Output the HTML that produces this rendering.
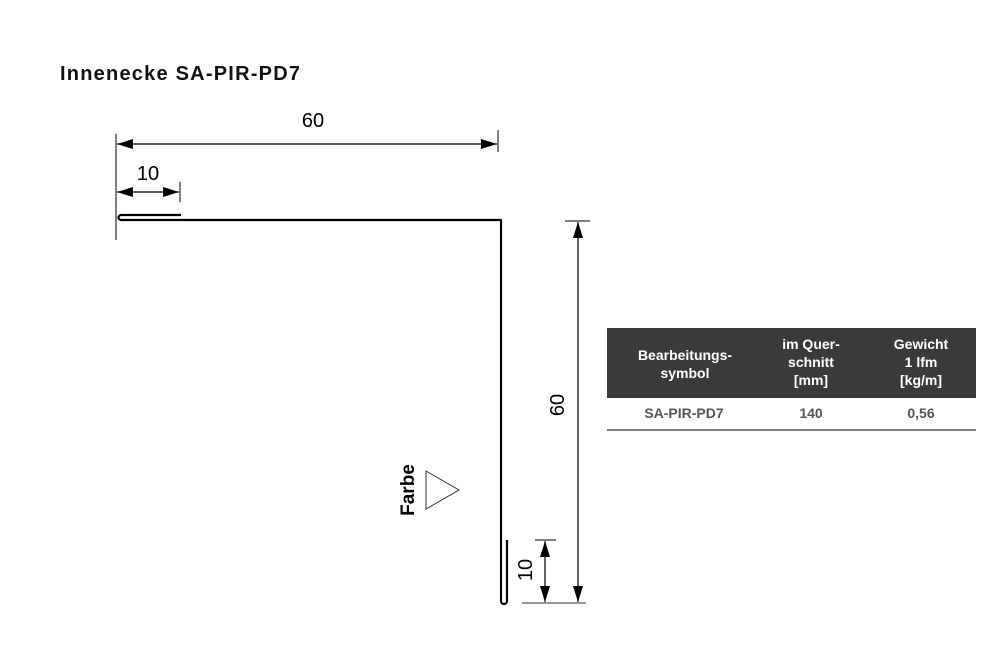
<!DOCTYPE html>
<html><head><style>
body{margin:0;background:#fff;}
</style></head><body>
<div style="position:relative;width:1000px;height:667px;overflow:hidden;">
<svg width="1000" height="667" style="position:absolute;left:0;top:0">
<defs>
<marker id="a" markerWidth="16" markerHeight="10" refX="16" refY="5" orient="auto-start-reverse" markerUnits="userSpaceOnUse"><path d="M0,0 L16,5 L0,10 z" fill="#000"/></marker>
</defs>
<text x="60" y="80" font-family="Liberation Sans, sans-serif" font-weight="bold" font-size="20" textLength="240" fill="#111">Innenecke SA-PIR-PD7</text>
<!-- profile -->
<path d="M181,215 L121,215 A2.5,2.5 0 0 0 121,220 L501,220 L501,601 A3,3 0 0 0 507,601 L507,540" fill="none" stroke="#000" stroke-width="2.2"/>
<!-- top dims -->
<line x1="116" y1="134" x2="116" y2="240" stroke="#000" stroke-width="1"/>
<line x1="498" y1="130" x2="498" y2="152" stroke="#000" stroke-width="1"/>
<line x1="117" y1="144" x2="497" y2="144" stroke="#000" stroke-width="1.2" marker-start="url(#a)" marker-end="url(#a)"/>
<line x1="180" y1="182" x2="180" y2="202" stroke="#000" stroke-width="1"/>
<line x1="117" y1="192" x2="179" y2="192" stroke="#000" stroke-width="1.2" marker-start="url(#a)" marker-end="url(#a)"/>
<text x="313" y="127" text-anchor="middle" font-family="Liberation Sans, sans-serif" font-size="20">60</text>
<text x="148" y="180" text-anchor="middle" font-family="Liberation Sans, sans-serif" font-size="20">10</text>
<!-- right dims -->
<line x1="565" y1="221" x2="590" y2="221" stroke="#000" stroke-width="1"/>
<line x1="522" y1="603" x2="586" y2="603" stroke="#777" stroke-width="1.5"/>
<line x1="578" y1="222" x2="578" y2="602" stroke="#000" stroke-width="1.2" marker-start="url(#a)" marker-end="url(#a)"/>
<line x1="535" y1="540" x2="556" y2="540" stroke="#000" stroke-width="1"/>
<line x1="545" y1="541" x2="545" y2="602" stroke="#000" stroke-width="1.2" marker-start="url(#a)" marker-end="url(#a)"/>
<text transform="translate(564,405) rotate(-90)" text-anchor="middle" font-family="Liberation Sans, sans-serif" font-size="20">60</text>
<text transform="translate(532,570) rotate(-90)" text-anchor="middle" font-family="Liberation Sans, sans-serif" font-size="20">10</text>
<!-- Farbe -->
<text transform="translate(414,490) rotate(-90)" text-anchor="middle" font-family="Liberation Sans, sans-serif" font-weight="bold" font-size="19">Farbe</text>
<path d="M426,471 L459,490 L426,509 z" fill="none" stroke="#333" stroke-width="1"/>
<!-- table -->
<rect x="607" y="328" width="369" height="70" fill="#3a3a3a"/>
<line x1="607" y1="430" x2="976" y2="430" stroke="#555" stroke-width="1.5"/>
<g font-family="Liberation Sans, sans-serif" font-weight="bold" fill="#fff" text-anchor="middle" font-size="14">
<text x="685" y="360">Bearbeitungs-</text><text x="685" y="378">symbol</text>
<text x="811" y="349">im Quer-</text><text x="811" y="367">schnitt</text><text x="811" y="385">[mm]</text>
<text x="921" y="349">Gewicht</text><text x="921" y="367">1 lfm</text><text x="921" y="385">[kg/m]</text>
</g>
<g font-family="Liberation Sans, sans-serif" font-weight="bold" fill="#555" text-anchor="middle" font-size="14">
<text x="684" y="418">SA-PIR-PD7</text><text x="811" y="418">140</text><text x="921" y="418">0,56</text>
</g>
</svg>
</div>
</body></html>
